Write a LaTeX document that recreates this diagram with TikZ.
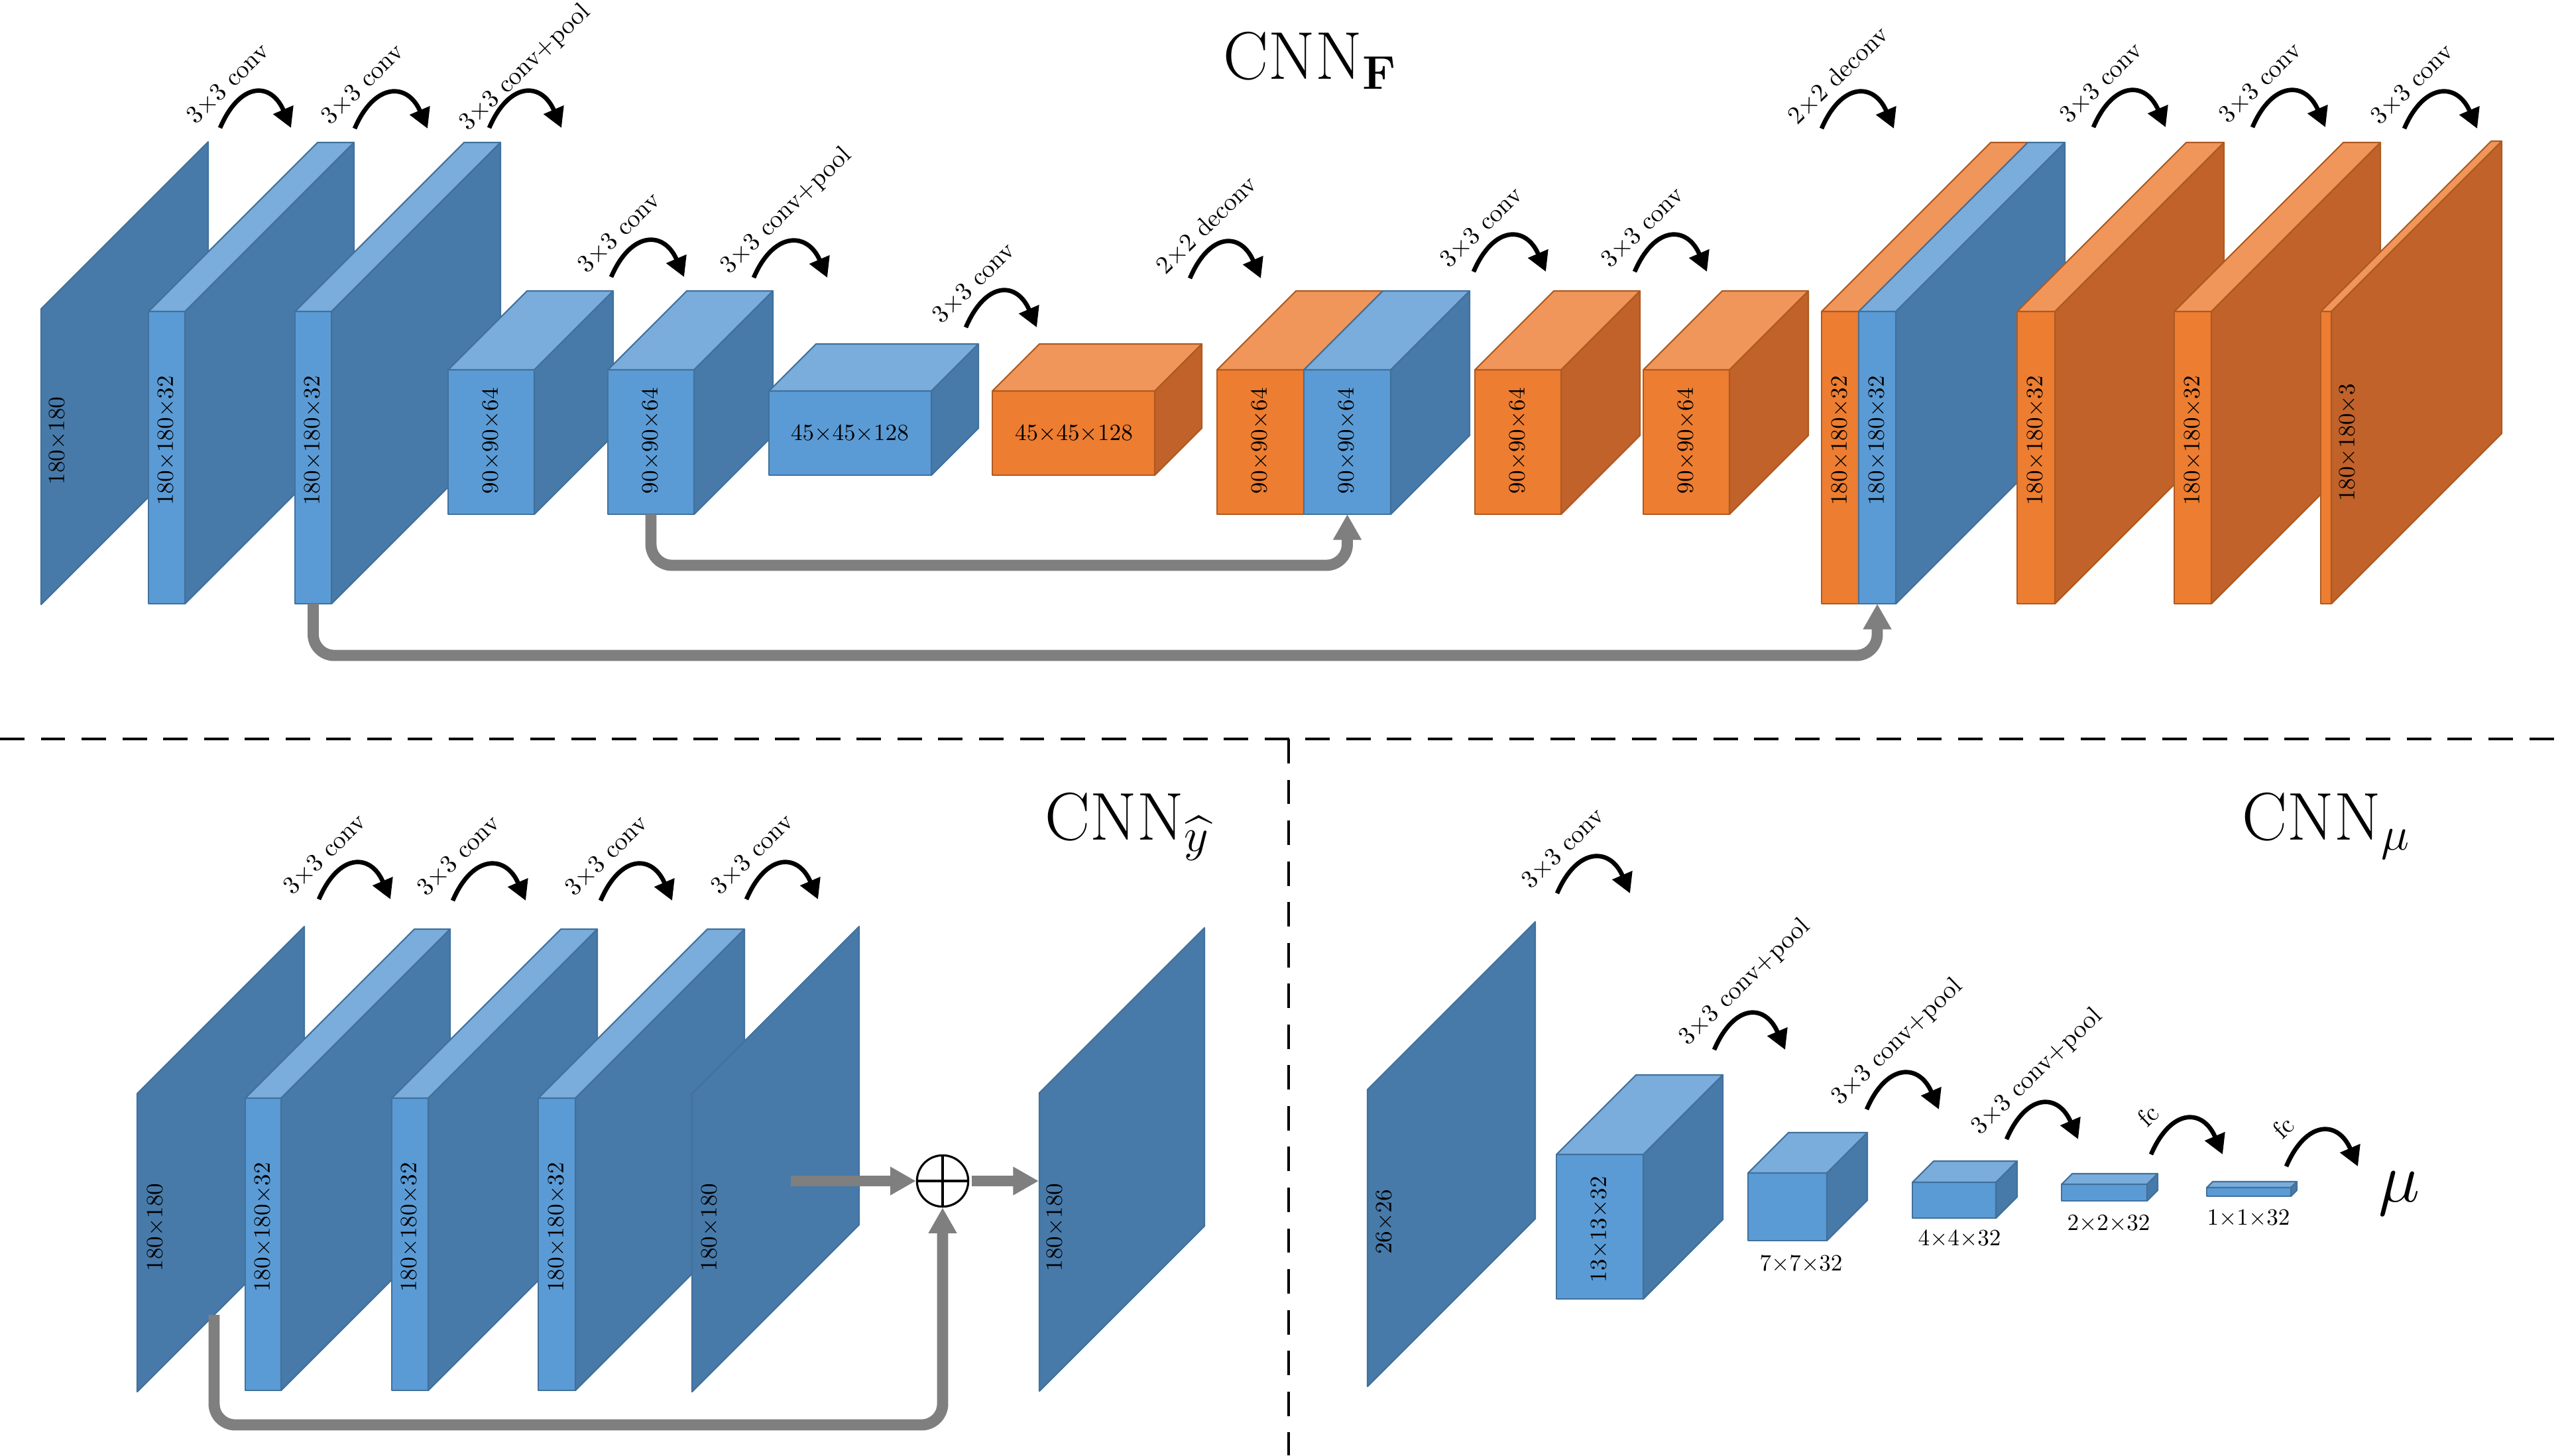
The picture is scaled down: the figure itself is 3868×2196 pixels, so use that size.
\RequirePackage{fix-cm}
\documentclass[tikz,border=0pt]{standalone}
\usepackage{amsmath}
\usetikzlibrary{arrows.meta,calc}
\definecolor{bfront}{HTML}{5B9BD5}
\definecolor{btop}{HTML}{7AACDC}
\definecolor{bside}{HTML}{477AA9}
\definecolor{bedge}{HTML}{41719C}
\definecolor{ofront}{HTML}{ED7D31}
\definecolor{otop}{HTML}{F1965A}
\definecolor{oside}{HTML}{C0622A}
\definecolor{oedge}{HTML}{AE5A21}
\definecolor{skipgray}{HTML}{7F7F7F}
\tikzset{
  faceline/.style={line width=0.6pt, line join=round},
  curarrow/.style={line width=1.9pt, -{Triangle[length=8.5pt,width=9pt]}},
  convlabel/.style={rotate=44, anchor=base west, inner sep=0pt, font=\fontsize{10.8}{13}\selectfont},
  dimlabel/.style={rotate=90, inner sep=0pt, font=\fontsize{10}{12}\selectfont},
  hlabel/.style={inner sep=0pt, font=\fontsize{10}{12}\selectfont},
  skiparrow/.style={draw=skipgray, line width=4.8pt, rounded corners=9pt, -{Triangle[length=11pt,width=11.5pt]}},
  titletext/.style={anchor=base west, inner sep=0pt, font=\fontsize{29}{35}\selectfont},
  divider/.style={line width=1.3pt, dash pattern=on 10.5pt off 7pt},
  sumnode/.style={circle, draw, line width=0.9pt, minimum size=22pt, inner sep=0pt, fill=white},
}
% #1 name #2 x #3 y(top of front) #4 w #5 h #6 depth #7 colour prefix
\newcommand{\blk}[7]{%
  \coordinate (#1-ft) at ({#2+#4/2},#3);
  \coordinate (#1-bs) at ({#2+#4/2},{#3+#5});
  \filldraw[fill=#7front, draw=#7edge, faceline] (#2,#3) rectangle ++(#4,#5);
  \filldraw[fill=#7top, draw=#7edge, faceline] (#2,#3) -- ++(#6,-#6) -- ++(#4,0) -- ++(-#6,#6) -- cycle;
  \filldraw[fill=#7side, draw=#7edge, faceline] ({#2+#4},#3) -- ++(#6,-#6) -- ++(0,#5) -- ++(-#6,#6) -- cycle;
}
% #1 name #2 x #3 y #4 h #5 depth
\newcommand{\plane}[5]{%
  \coordinate (#1-tl) at (#2,#3);
  \filldraw[fill=bside, draw=bedge, faceline] (#2,#3) -- ++(#5,-#5) -- ++(0,#4) -- ++(-#5,#5) -- cycle;
}
% #1 name #2 start x #3 end x #4 y #5 label #6 label offset
\newcommand{\carrow}[6]{%
  \coordinate (#1s) at (#2,#4);
  \coordinate (#1e) at (#3,#4);
  \draw[curarrow] (#1s) .. controls +(30,-70) and +(-30,-70) .. (#1e);
  \node[convlabel] (#1l) at ($(#1s)+(#6)$) {#5};
}
\newcommand{\cv}{$3{\times}3$ conv}
\newcommand{\cvp}{$3{\times}3$ conv+pool}
\newcommand{\dcv}{$2{\times}2$ deconv}
\begin{document}
\begin{tikzpicture}[x=0.01cm,y=-0.01cm]
\useasboundingbox (0,0) rectangle (3868,2196);
\fill[white] (0,0) rectangle (3868,2196);

% ===================== CNN_F =====================
\node[titletext] (tF) at (1845,119) {$\mathrm{CNN}_{\mathbf{F}}$};

\plane{P1}{62}{466}{446}{252}
\blk{L2}{224}{470}{55}{441}{255}{b}
\blk{L3}{445}{470}{55}{441}{255}{b}
\blk{L4}{676}{558}{130}{218}{119}{b}
\blk{L5}{917}{558}{130}{218}{119}{b}
\blk{L6}{1160}{590}{245}{127}{71}{b}
\blk{L7}{1497}{590}{245}{127}{71}{o}
\blk{L8a}{1836}{558}{131}{218}{119}{o}
\blk{L8b}{1967}{558}{131}{218}{119}{b}
\blk{L9}{2225}{558}{130}{218}{119}{o}
\blk{L10}{2479}{558}{130}{218}{119}{o}
\blk{L11a}{2748}{470}{56}{441}{255}{o}
\blk{L11b}{2804}{470}{56}{441}{255}{b}
\blk{L12}{3043}{470}{57}{441}{255}{o}
\blk{L13}{3280}{470}{56}{441}{255}{o}
\blk{L14}{3501}{470}{16}{441}{257}{o}

\node[dimlabel] (d1) at (87,665) {$180{\times}180$};
\node[dimlabel] (d2) at (251,665) {$180{\times}180{\times}32$};
\node[dimlabel] (d3) at (472,665) {$180{\times}180{\times}32$};
\node[dimlabel] (d4) at (741,665) {$90{\times}90{\times}64$};
\node[dimlabel] (d5) at (982,665) {$90{\times}90{\times}64$};
\node[hlabel] (d6) at (1282,655) {$45{\times}45{\times}128$};
\node[hlabel] (d7) at (1620,655) {$45{\times}45{\times}128$};
\node[dimlabel] (d8a) at (1901,665) {$90{\times}90{\times}64$};
\node[dimlabel] (d8b) at (2032,665) {$90{\times}90{\times}64$};
\node[dimlabel] (d9) at (2290,665) {$90{\times}90{\times}64$};
\node[dimlabel] (d10) at (2544,665) {$90{\times}90{\times}64$};
\node[dimlabel] (d11a) at (2776,665) {$180{\times}180{\times}32$};
\node[dimlabel] (d11b) at (2832,665) {$180{\times}180{\times}32$};
\node[dimlabel] (d12) at (3071,665) {$180{\times}180{\times}32$};
\node[dimlabel] (d13) at (3308,665) {$180{\times}180{\times}32$};
\node[dimlabel] (d14) at (3542,668) {$180{\times}180{\times}3$};

\carrow{a1}{332}{439}{193}{\cv}{-37,-4}
\carrow{a2}{535}{645}{194}{\cv}{-37,-4}
\carrow{a3}{738}{847}{193}{\cvp}{-32,6}
\carrow{a4}{922}{1032}{418}{\cv}{-37,-4}
\carrow{a5}{1137}{1248}{419}{\cvp}{-37,-4}
\carrow{a6}{1457}{1564}{494}{\cv}{-37,-4}
\carrow{a7}{1795}{1902}{420}{\dcv}{-37,-4}
\carrow{a8}{2223}{2332}{410}{\cv}{-37,-4}
\carrow{a9}{2466}{2575}{410}{\cv}{-37,-4}
\carrow{a10}{2748}{2857}{194}{\dcv}{-37,-4}
\carrow{a11}{3158}{3267}{192}{\cv}{-37,-4}
\carrow{a12}{3398}{3508}{192}{\cv}{-37,-4}
\carrow{a13}{3627}{3737}{194}{\cv}{-37,-4}

\draw[skiparrow] (L5-bs) -- ++(0,77) -| (L8b-bs);
\draw[skiparrow] (L3-bs) -- ++(0,78) -| (L11b-bs);

% ===================== dividers =====================
\coordinate (hl) at (0,1115);
\coordinate (hr) at (3868,1115);
\coordinate (vt) at (1944,1115);
\coordinate (vb) at (1944,2196);
\draw[divider] (hl) -- (hr);
\draw[divider] (vt) -- (vb);

% ===================== CNN_yhat =====================
\node[titletext] (tY) at (1576,1267) {$\mathrm{CNN}_{\widehat{y}}$};

\plane{Q1}{207}{1650}{450}{252}
\blk{Q2}{370}{1657}{54}{441}{255}{b}
\blk{Q3}{591}{1657}{55}{441}{255}{b}
\blk{Q4}{812}{1657}{56}{441}{255}{b}
\plane{Q5}{1044}{1650}{450}{252}
\plane{Q6}{1568}{1649}{450}{249}

\node[dimlabel] (e1) at (235,1852) {$180{\times}180$};
\node[dimlabel] (e2) at (397,1852) {$180{\times}180{\times}32$};
\node[dimlabel] (e3) at (618,1852) {$180{\times}180{\times}32$};
\node[dimlabel] (e4) at (840,1852) {$180{\times}180{\times}32$};
\node[dimlabel] (e5) at (1071,1852) {$180{\times}180$};
\node[dimlabel] (e6) at (1592,1852) {$180{\times}180$};

\carrow{b1}{481}{589}{1357}{\cv}{-40,-5}
\carrow{b2}{683}{793}{1359}{\cv}{-40,-5}
\carrow{b3}{906}{1014}{1359}{\cv}{-40,-5}
\carrow{b4}{1126}{1234}{1357}{\cv}{-40,-5}

\node[sumnode] (sum) at (1422,1782) {};
\draw[line width=0.9pt] (sum.north) -- (sum.south) (sum.west) -- (sum.east);
\coordinate (q5o) at (1193,1782);
\coordinate (q6i) at (1567,1782);
\coordinate (q1s) at (323,1984);
\draw[skiparrow] (q5o) -- (sum.west);
\draw[skiparrow, shorten <=1pt] (sum.east) -- (q6i);
\draw[skiparrow] (q1s) -- ++(0,166) -| (sum.south);

% ===================== CNN_mu =====================
\node[titletext] (tM) at (3382,1267) {$\mathrm{CNN}_{\mu}$};

\plane{R1}{2063}{1644}{448}{253}
\blk{R2}{2348}{1742}{131}{218}{120}{b}
\blk{R3}{2637}{1770}{119}{102}{61}{b}
\blk{R4}{2885}{1784}{126}{54}{32}{b}
\blk{R5}{3110}{1787}{129}{25}{16}{b}
\blk{R6}{3329}{1792}{127}{13}{9}{b}

\node[dimlabel] (f1) at (2089,1844) {$26{\times}26$};
\node[dimlabel] (f2) at (2413,1855) {$13{\times}13{\times}32$};
\node[hlabel] (f3) at (2717,1908) {$7{\times}7{\times}32$};
\node[hlabel] (f4) at (2956,1870) {$4{\times}4{\times}32$};
\node[hlabel] (f5) at (3181,1847) {$2{\times}2{\times}32$};
\node[hlabel] (f6) at (3392,1839) {$1{\times}1{\times}32$};
\node[titletext, font=\fontsize{30}{36}\selectfont] (mu) at (3588,1813) {$\mu$};

\carrow{c1}{2349}{2459}{1348}{\cv}{-40,-5}
\carrow{c2}{2586}{2693}{1584}{\cvp}{-40,-5}
\carrow{c3}{2816}{2925}{1674}{\cvp}{-40,-5}
\carrow{c4}{3027}{3135}{1719}{\cvp}{-40,-5}
\carrow{c5}{3245}{3353}{1742}{fc}{-6,-39}
\carrow{c6}{3449}{3557}{1760}{fc}{-6,-39}
\end{tikzpicture}
\end{document}
